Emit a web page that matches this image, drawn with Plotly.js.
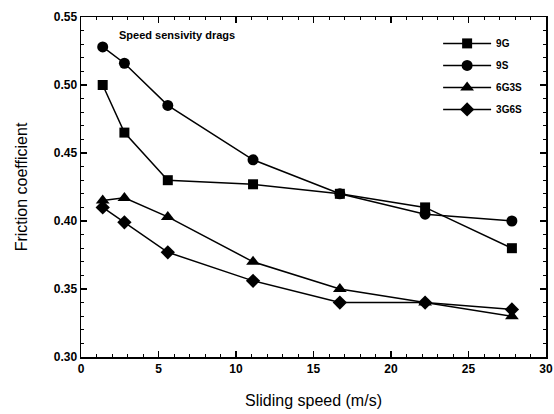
<!DOCTYPE html>
<html><head><meta charset="utf-8">
<script src="https://cdn.plot.ly/plotly-3.0.1.min.js"></script>
<style>html,body{margin:0;padding:0;background:#fff}#chart{width:554px;height:414px}</style>
</head><body><div id="chart"></div>
<script>
const speeds = [1.4, 2.8, 5.6, 11.1, 16.7, 22.2, 27.8];
const seriesNames = ["9G", "9S", "6G3S", "3G6S"];
const val9G   = [0.500, 0.465, 0.430, 0.427, 0.420, 0.410, 0.380];
const val9S   = [0.528, 0.516, 0.485, 0.445, 0.420, 0.405, 0.400];
const val6G3S = [0.415, 0.417, 0.403, 0.370, 0.350, 0.340, 0.330];
const val3G6S = [0.410, 0.399, 0.377, 0.356, 0.340, 0.340, 0.335];
const xTicks = [0, 5, 10, 15, 20, 25, 30];
const yTicks = [0.30, 0.35, 0.40, 0.45, 0.50, 0.55];

const symbols = ["square", "circle", "triangle-up", "diamond"];
const sizes = [10, 11, 12, 11];
const allVals = [val9G, val9S, val6G3S, val3G6S];
const traces = allVals.map((v, i) => ({
  x: speeds, y: v, name: seriesNames[i], type: "scatter", mode: "lines+markers",
  legendgroup: "g" + i,
  line: {color: "#000", width: 1.5},
  marker: {symbol: symbols[i], size: sizes[i], color: "#000"}
}));

const axisCommon = {
  showline: true, linecolor: "#000", linewidth: 1.5, mirror: "ticks",
  ticks: "inside", ticklen: 6, tickwidth: 1.3, tickcolor: "#000",
  showgrid: false, zeroline: false,
  tickfont: {family: "Liberation Sans, Arial, sans-serif", size: 12, color: "#000", weight: "bold"}
};

const layout = {
  width: 554, height: 414,
  margin: {l: 81, r: 8, t: 17, b: 57},
  paper_bgcolor: "#fff", plot_bgcolor: "#fff",
  showlegend: true,
  legend: {x: 0.768, y: 0.965, xanchor: "left", yanchor: "top", bgcolor: "rgba(0,0,0,0)",
    font: {family: "Liberation Sans, Arial, sans-serif", size: 10, color: "#000", weight: "bold"},
    itemwidth: 48, tracegroupgap: 3},
  xaxis: Object.assign({}, axisCommon, {
    range: [0, 30], tickvals: xTicks, ticktext: xTicks.map(String),
    minor: {dtick: 1, ticks: "inside", ticklen: 3, tickwidth: 1, tickcolor: "#000"},
    title: {text: "Sliding speed (m/s)", standoff: 20,
      font: {family: "Liberation Sans, Arial, sans-serif", size: 16, color: "#000"}}
  }),
  yaxis: Object.assign({}, axisCommon, {
    range: [0.30, 0.55], tickvals: yTicks, ticktext: yTicks.map(t => t.toFixed(2)),
    minor: {dtick: 0.01, ticks: "inside", ticklen: 3, tickwidth: 1, tickcolor: "#000"},
    title: {text: "Friction coefficient", standoff: 22,
      font: {family: "Liberation Sans, Arial, sans-serif", size: 16, color: "#000"}}
  }),
  annotations: [{
    xref: "x", yref: "y", x: 2.3, y: 0.537, xanchor: "left", yanchor: "middle",
    text: "Speed sensivity drags", showarrow: false,
    font: {family: "Liberation Sans, Arial, sans-serif", size: 11, color: "#000", weight: "bold"}
  }]
};

Plotly.newPlot("chart", traces, layout, {displayModeBar: false, staticPlot: true});
</script></body></html>
